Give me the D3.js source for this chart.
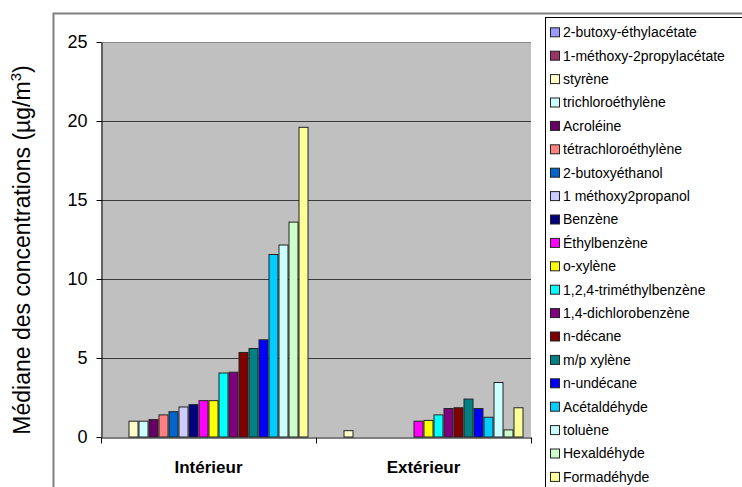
<!DOCTYPE html>
<html>
<head>
<meta charset="utf-8">
<script src="https://cdn.jsdelivr.net/npm/d3@7"></script>
<style>
  html, body { margin: 0; padding: 0; background: #fff; }
  svg { display: block; font-family: "Liberation Sans", Arial, sans-serif; }
</style>
</head>
<body>
<svg id="chart" width="742" height="487"></svg>
<script>
const categories = ["Intérieur", "Extérieur"];
const series = [
  "2-butoxy-éthylacétate",
  "1-méthoxy-2propylacétate",
  "styrène",
  "trichloroéthylène",
  "Acroléine",
  "tétrachloroéthylène",
  "2-butoxyéthanol",
  "1 méthoxy2propanol",
  "Benzène",
  "Éthylbenzène",
  "o-xylène",
  "1,2,4-triméthylbenzène",
  "1,4-dichlorobenzène",
  "n-décane",
  "m/p xylène",
  "n-undécane",
  "Acétaldéhyde",
  "toluène",
  "Hexaldéhyde",
  "Formadéhyde"
];
const interieur = [null, null, 1.0, 1.0, 1.1, 1.4, 1.6, 1.9, 2.05, 2.3, 2.3, 4.05, 4.1, 5.35, 5.6, 6.15, 11.55, 12.15, 13.6, 19.6];
const exterieur = [null, null, 0.4, null, null, null, null, null, null, 1.0, 1.05, 1.4, 1.8, 1.85, 2.4, 1.8, 1.25, 3.45, 0.45, 1.85];
const colors = ["#9999FF", "#993366", "#FFFFCC", "#CCFFFF", "#660066", "#FF8080", "#0066CC", "#CCCCFF", "#000080", "#FF00FF",
                "#FFFF00", "#00FFFF", "#800080", "#800000", "#008080", "#0000FF", "#00CCFF", "#CCFFFF", "#CCFFCC", "#FFFF99"];
const yTicks = [0, 5, 10, 15, 20, 25];
const yTitle = "Médiane des concentrations (µg/m";

const valuesByCat = [interieur, exterieur];

const svg = d3.select("#chart");
const plot = { left: 101, right: 531, top: 42, bottom: 437 };

// outer chart border
svg.append("rect").attr("x", 53.5).attr("y", 13.5).attr("width", 800).attr("height", 600)
  .attr("fill", "#fff").attr("stroke", "#808080").attr("stroke-width", 2);

const x0 = d3.scaleBand().domain(categories).range([plot.left, plot.right]).padding(0);
const x1 = d3.scaleBand().domain(series).range([0, x0.bandwidth()]).paddingInner(0).paddingOuter(0.75);
const y = d3.scaleLinear().domain([0, 25]).range([plot.bottom, plot.top]);
const color = d3.scaleOrdinal().domain(series).range(colors);

// plot area
svg.append("rect").attr("x", plot.left).attr("y", plot.top)
  .attr("width", plot.right - plot.left).attr("height", plot.bottom - plot.top)
  .attr("fill", "#C0C0C0");

// gridlines
svg.append("g").selectAll("line").data(yTicks.filter(d => d > 0)).join("line")
  .attr("x1", plot.left).attr("x2", plot.right)
  .attr("y1", d => Math.round(y(d)) + 0.5).attr("y2", d => Math.round(y(d)) + 0.5)
  .attr("stroke", d => d === 25 ? "#8a8a8a" : "#3a3a3a").attr("stroke-width", 1);

// bars
const data = [];
categories.forEach((c, ci) => {
  series.forEach((s, si) => {
    const v = valuesByCat[ci][si];
    if (v != null) data.push({ cat: c, s, v });
  });
});
svg.append("g").selectAll("rect").data(data).join("rect")
  .attr("x", d => x0(d.cat) + x1(d.s) + 0.5)
  .attr("y", d => y(d.v))
  .attr("width", x1.bandwidth() - 1)
  .attr("height", d => y(0) - y(d.v))
  .attr("fill", d => color(d.s))
  .attr("stroke", "#222").attr("stroke-width", 1);

// y axis
const yAxis = d3.axisLeft(y).tickValues(yTicks).tickSize(5).tickPadding(9).tickSizeOuter(0);
const gy = svg.append("g").attr("transform", `translate(${plot.left + 0.5},0)`).call(yAxis);
gy.select(".domain").attr("stroke", "#000");
gy.selectAll(".tick line").attr("stroke", "#000");
gy.selectAll(".tick text").attr("font-size", 18).attr("fill", "#000")
  .attr("font-family", "'Liberation Sans', Arial, sans-serif");

// x axis
const xAxis = d3.axisBottom(x0).tickSize(0).tickPadding(23);
const gx = svg.append("g").attr("transform", `translate(0,${plot.bottom + 0.5})`).call(xAxis);
gx.select(".domain").attr("stroke", "#000");
gx.selectAll(".tick text").attr("font-size", 17).attr("font-weight", "bold").attr("fill", "#000")
  .attr("font-family", "'Liberation Sans', Arial, sans-serif");
// category separator ticks
gx.append("g").selectAll("line").data([plot.left, x0(categories[1]), plot.right]).join("line")
  .attr("x1", d => Math.round(d) + 0.5).attr("x2", d => Math.round(d) + 0.5)
  .attr("y1", 0).attr("y2", 6).attr("stroke", "#000");

// y title
const t = svg.append("text")
  .attr("transform", `translate(29.5,250) rotate(-90)`)
  .attr("text-anchor", "middle")
  .attr("font-size", 23).attr("fill", "#000");
t.append("tspan").text(yTitle);
t.append("tspan").attr("font-size", 15).attr("dy", -9).text("3");
t.append("tspan").attr("dy", 9).text(")");

// legend
svg.append("rect").attr("x", 545.5).attr("y", 17.5).attr("width", 300).attr("height", 600)
  .attr("fill", "#fff").attr("stroke", "#000").attr("stroke-width", 1);
const lg = svg.append("g").selectAll("g").data(series).join("g")
  .attr("transform", (d, i) => `translate(550,${32.3 + i * 23.4})`);
lg.append("rect").attr("x", 0.5).attr("y", -4.5).attr("width", 9).attr("height", 9)
  .attr("fill", d => color(d)).attr("stroke", "#222");
lg.append("text").attr("x", 13).attr("dy", "0.35em").attr("font-size", 14).attr("fill", "#000")
  .text(d => d);
</script>
</body>
</html>
